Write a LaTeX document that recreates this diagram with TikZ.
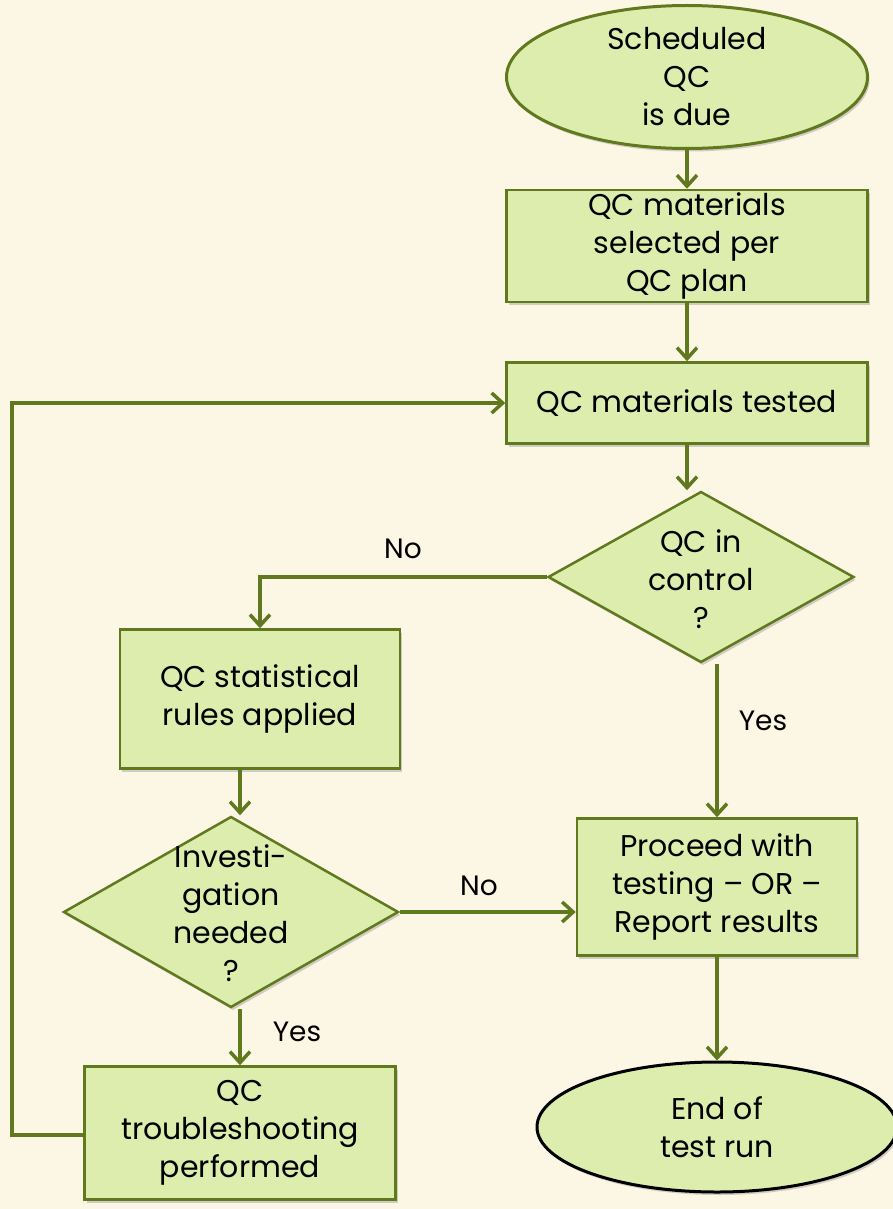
\documentclass[tikz,border=0pt]{standalone}
\usepackage{fontspec}
\setmainfont{Poppins}
\usetikzlibrary{arrows.meta,shapes.geometric,shadows}
\definecolor{qcback}{RGB}{252,246,228}
\definecolor{qcfill}{RGB}{221,237,174}
\definecolor{qcline}{RGB}{96,120,30}

\begin{document}
\begin{tikzpicture}[x=1pt,y=-1pt,
  txt/.style={font=\fontsize{30}{38}\selectfont,text=black,align=center,inner sep=0pt},
  box/.style={txt,draw=qcline,fill=qcfill,line width=2.5pt,
    drop shadow={opacity=0.35,shadow xshift=2pt,shadow yshift=-3pt}},
  decide/.style={diamond,draw=qcline,fill=qcfill,line width=2.5pt,inner sep=0pt,
    drop shadow={opacity=0.35,shadow xshift=2pt,shadow yshift=-3pt}},
  term/.style={txt,ellipse,fill=qcfill,line width=3pt,
    drop shadow={opacity=0.35,shadow xshift=2pt,shadow yshift=-3pt}},
  flow/.style={draw=qcline,line width=3.5pt,-{Straight Barb[length=11pt,width=20pt,line width=3.5pt]}},
  note/.style={font=\fontsize{28}{32}\selectfont,text=black},
]
\fill[qcback] (0,0) rectangle (893,1209);
\useasboundingbox (0,0) rectangle (893,1209);

% steps
\node[term,draw=qcline,minimum width=361,minimum height=143] (start) at (687,77) {Scheduled\\QC\\is due};
\node[box,minimum width=361,minimum height=112] (select) at (687,246) {QC materials\\selected per\\QC plan};
\node[box,minimum width=361,minimum height=81] (tested) at (687,403) {QC materials tested};
\node[decide,minimum width=306,minimum height=171] (ctrl) at (701,577) {};
\node[txt] (ctrltxt) at (701,579) {QC in\\control\\?};
\node[box,minimum width=280,minimum height=139] (rules) at (260,699) {QC statistical\\rules applied};
\node[decide,minimum width=335,minimum height=191] (invest) at (231,912) {};
\node[txt] (investtxt) at (231,913) {Investi-\\gation\\needed\\?};
\node[box,minimum width=280,minimum height=137] (proceed) at (717,887) {Proceed with\\testing -- OR --\\Report results};
\node[box,minimum width=311,minimum height=133] (trouble) at (240,1133) {QC\\troubleshooting\\performed};
\node[term,draw=black,minimum width=360,minimum height=130] (stop) at (717,1127) {End of\\test run};

% connectors
\draw[flow] (start) -- (select);
\draw[flow] (select) -- (tested);
\draw[flow] (tested.south) -- (tested.south |- ctrl.north);
\draw[flow] (ctrl.west) -| (rules.north);
\draw[flow] (proceed.north |- ctrl.south) -- (proceed.north);
\draw[flow] (rules.south -| trouble.north) -- (invest.north -| trouble.north);
\draw[flow] (invest.east) -- (proceed.west |- invest.east);
\draw[flow] (invest.south -| trouble.north) -- (trouble.north);
\draw[flow] (proceed) -- (stop);
\coordinate (loopbot) at (12,1135);
\draw[flow] (trouble.west |- loopbot) -- (loopbot) |- (tested.west);

\node[note] (lno1) at (403,549) {No};
\node[note] (lyes1) at (763,721) {Yes};
\node[note] (lno2) at (479,886) {No};
\node[note] (lyes2) at (297,1032) {Yes};
\end{tikzpicture}
\end{document}
